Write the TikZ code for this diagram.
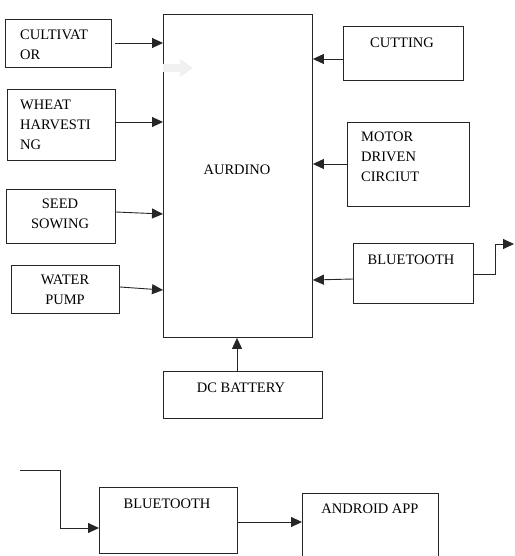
\documentclass[tikz,border=0pt]{standalone}
\usepackage{fontspec}
\setmainfont{Liberation Serif}
\usetikzlibrary{arrows.meta,calc}
\begin{document}
\begin{tikzpicture}[x=1pt,y=-1pt,
  box/.style={draw=black!85,line width=0.9pt,rectangle,inner sep=0pt,anchor=north west},
  txt/.style={inner sep=0pt,font=\fontsize{14.5}{20}\selectfont,text=black},
  conn/.style={draw=black!85,line width=0.9pt,-{Triangle[length=11pt,width=10pt]}},
  plain/.style={draw=black!85,line width=0.9pt}]
\useasboundingbox (0,0) rectangle (514,556);
% main box
\node[box,minimum width=149pt,minimum height=323pt] (ard) at (163,14) {};
\node[txt,anchor=north] (ardt) at (237,165) {AURDINO};
% faint arrow
\fill[black!6] (163,64) -- (180,64) -- (180,59) -- (193,68) -- (180,77) -- (180,72) -- (163,72) -- cycle;
% left boxes
\node[box,minimum width=106pt,minimum height=48pt] (cult) at (5,19) {};
\node[txt,anchor=north west,align=left] (cultt) at (20,30) {CULTIVAT\\OR};
\node[box,minimum width=108pt,minimum height=71pt] (wheat) at (7,89) {};
\node[txt,anchor=north west,align=left] (wheatt) at (20,100) {WHEAT\\HARVESTI\\NG};
\node[box,minimum width=109pt,minimum height=54pt] (seed) at (6,189) {};
\node[txt,anchor=north,align=center] (seedt) at (60,199) {SEED\\SOWING};
\node[box,minimum width=108pt,minimum height=48pt] (water) at (11,265) {};
\node[txt,anchor=north,align=center] (watert) at (65,275) {WATER\\PUMP};
% right boxes
\node[box,minimum width=120pt,minimum height=54pt] (cut) at (343,26) {};
\node[txt,anchor=north] (cutt) at (402,38) {CUTTING};
\node[box,minimum width=122pt,minimum height=84pt] (motor) at (347,122) {};
\node[txt,anchor=north west,align=left] (motort) at (361,132) {MOTOR\\DRIVEN\\CIRCIUT};
\node[box,minimum width=120pt,minimum height=60pt] (bt1) at (353,243) {};
\node[txt,anchor=north] (bt1t) at (411,255) {BLUETOOTH};
% battery
\node[box,minimum width=159pt,minimum height=47pt] (bat) at (163,371) {};
\node[txt,anchor=north] (batt) at (241,383) {DC BATTERY};
% bottom
\node[box,minimum width=138pt,minimum height=66pt] (bt2) at (99,487) {};
\node[txt,anchor=north] (bt2t) at (167,499) {BLUETOOTH};
\node[box,minimum width=136pt,minimum height=70pt] (app) at (302,493) {};
\node[txt,anchor=north] (appt) at (370,504) {ANDROID APP};
% connectors
\draw[conn] (115,43) -- (ard.west |- 0,43);
\draw[conn] (wheat.east |- 0,122) -- (ard.west |- 0,122);
\draw[conn] (seed.east |- 0,212) -- (ard.west |- 0,214);
\draw[conn] (water.east |- 0,287) -- (ard.west |- 0,290);
\draw[conn] (cut.west |- 0,59) -- (ard.east |- 0,59);
\draw[conn] (motor.west |- 0,164) -- (ard.east |- 0,164);
\draw[conn] (bt1.west |- 0,279) -- (ard.east |- 0,280);
\draw[conn] (bat.north west -| 237,0) -- (ard.south west -| 237,0);
\coordinate (o1) at (514,244);
\draw[conn] (bt1.east |- 0,274) -- (495,274) -- (495,244) -- (o1);
\coordinate (i1) at (20,470);
\draw[conn] (i1) -- (60,470) -- (60,528) -- (bt2.west |- 0,528);
\draw[conn] (bt2.east |- 0,522) -- (app.west |- 0,522);
\end{tikzpicture}
\end{document}
